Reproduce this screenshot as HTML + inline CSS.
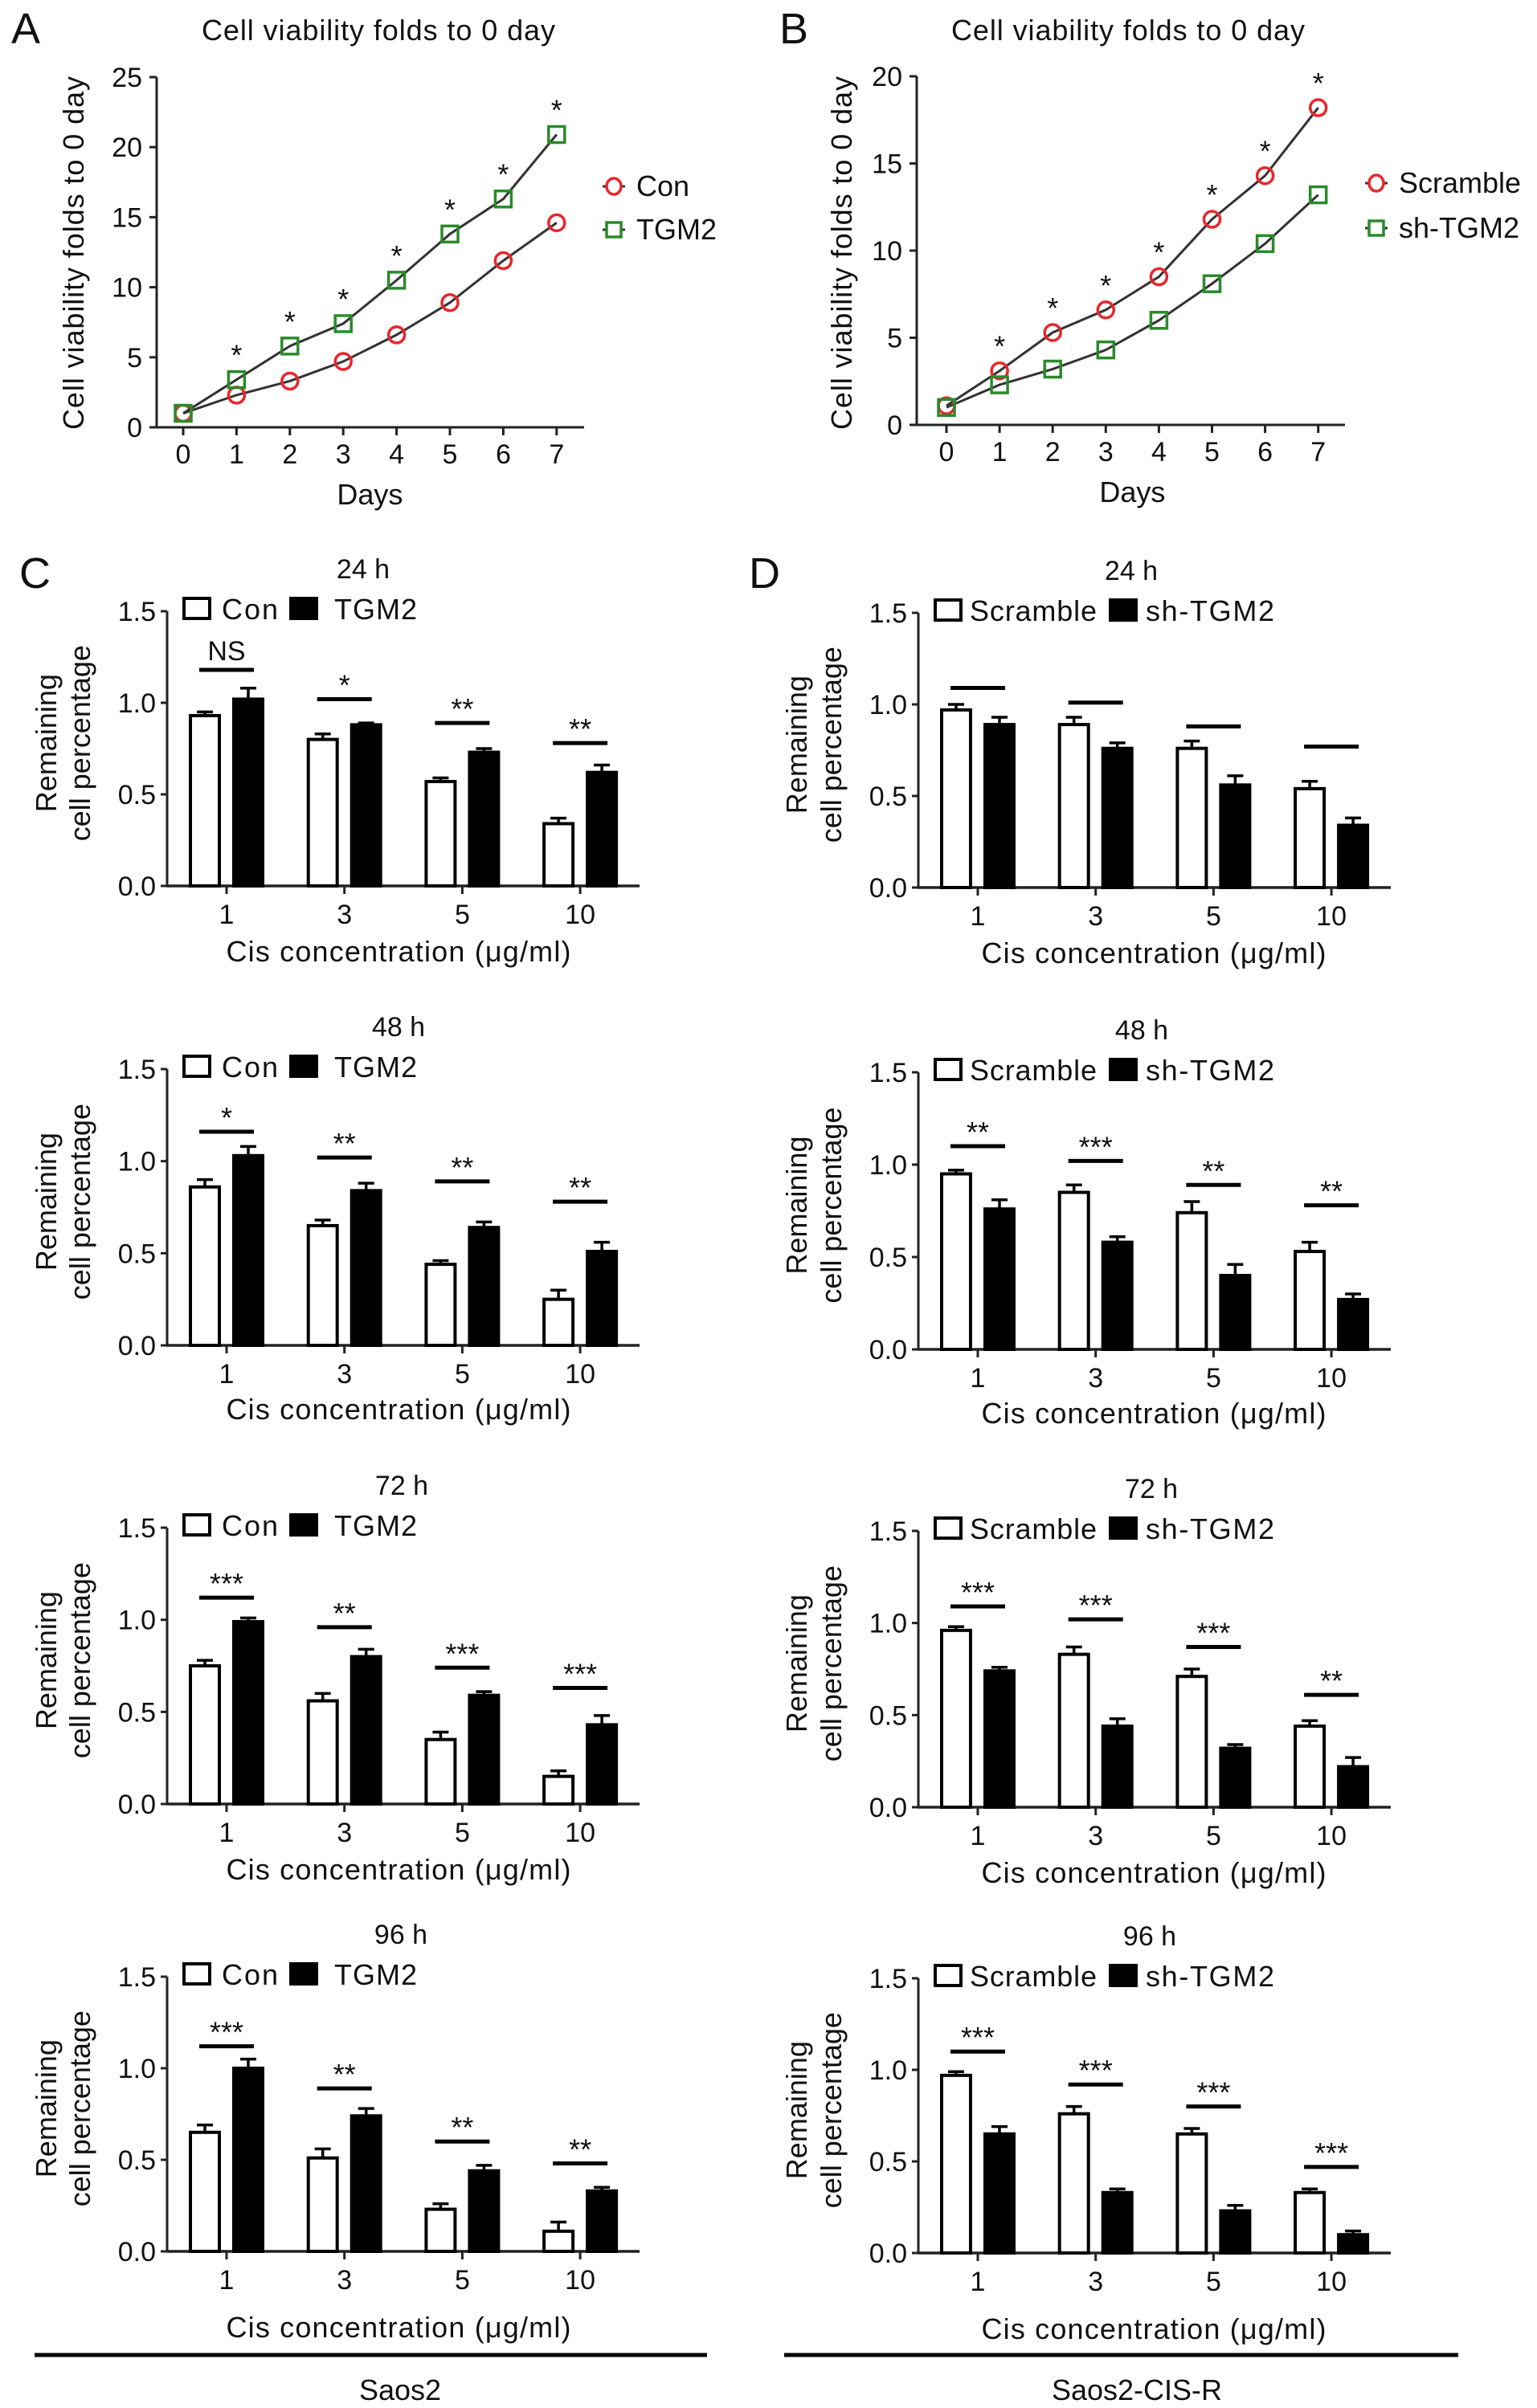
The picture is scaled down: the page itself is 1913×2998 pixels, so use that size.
<!DOCTYPE html>
<html><head><meta charset="utf-8"><title>Cell viability and cisplatin response</title>
<style>html,body{margin:0;padding:0;background:#fff}svg{display:block}text{font-family:"Liberation Sans",Arial,sans-serif;fill:#111}</style>
</head><body>
<svg id="fig" xmlns="http://www.w3.org/2000/svg" width="1913" height="2998" viewBox="0 0 1913 2998"></svg>
<script>
// ---- Line chart data ----
const days = [0,1,2,3,4,5,6,7];
const aTicks = [0,5,10,15,20,25];
const aCon = [1.0,2.3,3.3,4.7,6.6,8.9,11.9,14.6];
const aTGM2 = [1.0,3.4,5.8,7.4,10.5,13.8,16.3,20.9];
const bTicks = [0,5,10,15,20];
const bScramble = [1.1,3.1,5.3,6.6,8.5,11.8,14.3,18.2];
const bShTGM2 = [1.0,2.3,3.2,4.3,6.0,8.1,10.4,13.2];

// ---- Bar chart data ----
const concentrations = ["1","3","5","10"];
const barTicks = [0.0,0.5,1.0,1.5];
const c24White=[0.93,0.80,0.57,0.34], c24Black=[1.02,0.88,0.73,0.62];
const c24WErr=[0.02,0.03,0.02,0.03], c24BErr=[0.06,0.01,0.02,0.04];
const c24Sig=["NS","*","**","**"], c24Line=[1.18,1.02,0.89,0.78];
const d24White=[0.97,0.89,0.76,0.54], d24Black=[0.89,0.76,0.56,0.34];
const d24WErr=[0.03,0.04,0.04,0.04], d24BErr=[0.04,0.03,0.05,0.04];
const d24Sig=["","","",""], d24Line=[1.09,1.01,0.88,0.77];
const c48White=[0.86,0.65,0.44,0.25], c48Black=[1.03,0.84,0.64,0.51];
const c48WErr=[0.04,0.03,0.02,0.05], c48BErr=[0.05,0.04,0.03,0.05];
const c48Sig=["*","**","**","**"], c48Line=[1.16,1.02,0.89,0.78];
const d48White=[0.95,0.85,0.74,0.53], d48Black=[0.76,0.58,0.40,0.27];
const d48WErr=[0.02,0.04,0.06,0.05], d48BErr=[0.05,0.03,0.06,0.03];
const d48Sig=["**","***","**","**"], d48Line=[1.10,1.02,0.89,0.78];
const c72White=[0.75,0.56,0.35,0.15], c72Black=[0.99,0.80,0.59,0.43];
const c72WErr=[0.03,0.04,0.04,0.03], c72BErr=[0.02,0.04,0.02,0.05];
const c72Sig=["***","**","***","***"], c72Line=[1.12,0.96,0.74,0.63];
const d72White=[0.96,0.83,0.71,0.44], d72Black=[0.74,0.44,0.32,0.22];
const d72WErr=[0.02,0.04,0.04,0.03], d72BErr=[0.02,0.04,0.02,0.05];
const d72Sig=["***","***","***","**"], d72Line=[1.09,1.02,0.87,0.61];
const c96White=[0.65,0.51,0.23,0.11], c96Black=[1.00,0.74,0.44,0.33];
const c96WErr=[0.04,0.05,0.03,0.05], c96BErr=[0.05,0.04,0.03,0.02];
const c96Sig=["***","**","**","**"], c96Line=[1.12,0.89,0.60,0.48];
const d96White=[0.97,0.76,0.65,0.33], d96Black=[0.65,0.33,0.23,0.10];
const d96WErr=[0.02,0.04,0.03,0.02], d96BErr=[0.04,0.02,0.03,0.02];
const d96Sig=["***","***","***","***"], d96Line=[1.10,0.92,0.80,0.47];

const NS='http://www.w3.org/2000/svg';
const svg=document.getElementById('fig');
function mk(tag,attrs,parent){const e=document.createElementNS(NS,tag);for(const k in attrs)e.setAttribute(k,attrs[k]);(parent||svg).appendChild(e);return e;}
function txt(s,x,y,size,anchor,parent,extra){const e=mk('text',Object.assign({x:x,y:y,'font-size':size,'text-anchor':anchor||'middle'},extra||{}),parent);e.textContent=s;return e;}

// panel letters
[["A",14,54],["B",970,54],["C",24,732],["D",932,732]].forEach(p=>{
  const t=txt(p[0],p[1],p[2],54,'start');
  
  
});

function lineChart(o){
  const g=mk('g',{});
  
  
  const xs=d=>o.x0+d*o.step, ys=v=>o.y0-v*o.unit;
  const t=txt('Cell viability folds to 0 day',o.titleX,50,36,'middle',g,{textLength:440});
  
  
  const yt=txt('Cell viability folds to 0 day',0,0,36,'middle',g,{transform:`translate(${o.ytX},315) rotate(-90)`,textLength:440});
  
  
  mk('line',{x1:o.ax,y1:o.y0,x2:o.ax,y2:ys(o.ticks[o.ticks.length-1]),stroke:'#222','stroke-width':3},g);
  mk('line',{x1:o.ax-1,y1:o.y0,x2:o.axEnd,y2:o.y0,stroke:'#222','stroke-width':3},g);
  o.ticks.forEach(v=>{
    mk('line',{x1:o.ax-9,y1:ys(v),x2:o.ax,y2:ys(v),stroke:'#222','stroke-width':3},g);
    const l=txt(String(v),o.ax-18,ys(v)+12,34,'end',g);
    
    
  });
  days.forEach(d=>{
    mk('line',{x1:xs(d),y1:o.y0,x2:xs(d),y2:o.y0+10,stroke:'#222','stroke-width':3},g);
    const l=txt(String(d),xs(d),o.y0+45,34,'middle',g);
    
    
  });
  const xl=txt('Days',o.x0+3.5*o.step,o.y0+96,36,'middle',g);
  
  
  o.series.forEach((s,si)=>{
    const pts=days.map(d=>xs(d)+','+ys(s.vals[d])).join(' ');
    const pl=mk('polyline',{points:pts,fill:'none',stroke:'#333','stroke-width':3},g);
    
    
    days.forEach(d=>{
      let m;
      if(s.shape==='circle') m=mk('ellipse',{cx:xs(d),cy:ys(s.vals[d]),rx:10,ry:10,fill:'none',stroke:s.color,'stroke-width':3.5},g);
      else m=mk('rect',{x:xs(d)-10,y:ys(s.vals[d])-10,width:20,height:20,fill:'none',stroke:s.color,'stroke-width':3.5},g);
      
      
    });
    // legend
    const ly=o.legY[si];
    const le=mk('g',{},g);
    
    
    mk('line',{x1:o.legX-14,y1:ly,x2:o.legX+14,y2:ly,stroke:'#333','stroke-width':3},le);
    if(s.shape==='circle') mk('ellipse',{cx:o.legX,cy:ly,rx:9,ry:10,fill:'#fff',stroke:s.color,'stroke-width':3.5},le);
    else mk('rect',{x:o.legX-9,y:ly-9,width:18,height:18,fill:'#fff',stroke:s.color,'stroke-width':3.5},le);
    txt(s.label,o.legX+28,ly+12,36,'start',le);
  });
  days.forEach(d=>{ if(d===0)return;
    const top=o.series[o.starSeries].vals[d];
    const st=txt('*',xs(d),ys(top)-38+20,36,'middle',g);
    
    
  });
}
lineChart({name:'chart-a-cell-viability',x0:228,step:66.4,ax:195,axEnd:727,y0:532,unit:17.44,ticks:aTicks,titleX:471,ytX:104,
  legX:764,legY:[232,286],starSeries:1,
  series:[{key:'con',label:'Con',vals:aCon,shape:'circle',color:'#e8262b'},{key:'tgm2',label:'TGM2',vals:aTGM2,shape:'square',color:'#2a8a2a'}]});
lineChart({name:'chart-b-cell-viability',x0:1178,step:66.1,ax:1141,axEnd:1674,y0:529,unit:21.7,ticks:bTicks,titleX:1404,ytX:1060,
  legX:1713,legY:[228,284],starSeries:0,
  series:[{key:'scramble',label:'Scramble',vals:bScramble,shape:'circle',color:'#e8262b'},{key:'sh-tgm2',label:'sh-TGM2',vals:bShTGM2,shape:'square',color:'#2a8a2a'}]});

function barChart(o){
  const g=mk('g',{});
  
  
  const unit=(o.y0-o.y15)/1.5;
  const ys=v=>o.y0-v*unit;
  const xc=i=>o.t0+i*146.7;
  const t=txt(o.title,o.titleX,o.y15-41,34,'middle',g);
  
  
  const cy=o.y0-0.52*(o.y0-o.y15);
  const y1=txt('Remaining',0,0,36,'middle',g,{transform:`translate(${o.yl1},${cy}) rotate(-90)`});
  
  
  txt('cell percentage',0,0,36,'middle',g,{transform:`translate(${o.yl2},${cy}) rotate(-90)`});
  mk('line',{x1:o.ax,y1:o.y0,x2:o.ax,y2:o.y15,stroke:'#222','stroke-width':3},g);
  mk('line',{x1:o.ax-1,y1:o.y0,x2:o.axEnd,y2:o.y0,stroke:'#222','stroke-width':3.5},g);
  barTicks.forEach(v=>{
    mk('line',{x1:o.ax-8,y1:ys(v),x2:o.ax,y2:ys(v),stroke:'#222','stroke-width':3},g);
    const l=txt(v.toFixed(1),o.ax-14,ys(v)+12,34,'end',g);
    
    
  });
  concentrations.forEach((c,i)=>{
    mk('line',{x1:xc(i),y1:o.y0,x2:xc(i),y2:o.y0+10,stroke:'#222','stroke-width':3},g);
    const l=txt(c,xc(i),o.y0+47,34,'middle',g);
    
    
    [[o.w,o.we,-27,'#fff','white'],[o.b,o.be,27,'#000','black']].forEach(s=>{
      const v=s[0][i], e=s[1][i], cx=xc(i)+s[2];
      mk('line',{x1:cx,y1:ys(v),x2:cx,y2:ys(v+e),stroke:'#000','stroke-width':3.5},g);
      mk('line',{x1:cx-10,y1:ys(v+e),x2:cx+10,y2:ys(v+e),stroke:'#000','stroke-width':3.5},g);
      const r=mk('rect',{x:cx-18,y:ys(v),width:36,height:v*unit,fill:s[3],stroke:'#000','stroke-width':4},g);
      
      
    });
    const ly=ys(o.line[i]);
    const sl=mk('line',{x1:xc(i)-34,y1:ly,x2:xc(i)+34,y2:ly,stroke:'#000','stroke-width':5},g);
    
    
    if(o.sig[i]){
      const isNS=o.sig[i]==='NS';
      const st=txt(o.sig[i],xc(i),isNS?ly-12:ly-25+20,isNS?34:36,'middle',g);
      
      
    }
  });
  const at=txt('Cis concentration (\u03bcg/ml)',o.atX,o.y0+o.atOff,36,'middle',g,{textLength:429});
  
  
  // legend
  const lg=mk('g',{},g);
  
  
  const top=o.y15-16;
  mk('rect',{x:o.leg[0],y:top,width:32,height:25,fill:'#fff',stroke:'#000','stroke-width':4},lg);
  txt(o.labels[0],o.leg[1],o.y15+10,36,'start',lg,{textLength:o.leg[4]});
  mk('rect',{x:o.leg[2],y:top,width:32,height:25,fill:'#000',stroke:'#000','stroke-width':4},lg);
  txt(o.labels[1],o.leg[3],o.y15+10,36,'start',lg,{textLength:o.leg[5]});
}
const rows=[
 {y0c:1103,y15c:761,y0d:1105,y15d:763,tc:'24 h',txc:452,txd:1408,off:94},
 {y0c:1675,y15c:1331,y0d:1680,y15d:1335,tc:'48 h',txc:496,txd:1421,off:92},
 {y0c:2246,y15c:1902,y0d:2250,y15d:1906,tc:'72 h',txc:500,txd:1433,off:94},
 {y0c:2803,y15c:2461,y0d:2805,y15d:2463,tc:'96 h',txc:499,txd:1431,off:107}
];
const cData=[[c24White,c24Black,c24WErr,c24BErr,c24Sig,c24Line],[c48White,c48Black,c48WErr,c48BErr,c48Sig,c48Line],[c72White,c72Black,c72WErr,c72BErr,c72Sig,c72Line],[c96White,c96Black,c96WErr,c96BErr,c96Sig,c96Line]];
const dData=[[d24White,d24Black,d24WErr,d24BErr,d24Sig,d24Line],[d48White,d48Black,d48WErr,d48BErr,d48Sig,d48Line],[d72White,d72Black,d72WErr,d72BErr,d72Sig,d72Line],[d96White,d96Black,d96WErr,d96BErr,d96Sig,d96Line]];
rows.forEach((r,k)=>{
  const c=cData[k], d=dData[k];
  barChart({name:'chart-c-'+r.tc.replace(' ',''),title:r.tc,titleX:r.txc,ax:208,axEnd:796,t0:282,y0:r.y0c,y15:r.y15c,yl1:70,yl2:112,
    w:c[0],b:c[1],we:c[2],be:c[3],sig:c[4],line:c[5],atX:496,atOff:r.off,labels:['Con','TGM2'],leg:[229,276,362,416,70,103]});
  barChart({name:'chart-d-'+r.tc.replace(' ',''),title:r.tc,titleX:r.txd,ax:1143,axEnd:1731,t0:1217,y0:r.y0d,y15:r.y15d,yl1:1004,yl2:1047,
    w:d[0],b:d[1],we:d[2],be:d[3],sig:d[4],line:d[5],atX:1436,atOff:r.off,labels:['Scramble','sh-TGM2'],leg:[1164,1207,1382,1426,158,160]});
});
// bottom group labels
[[43,880,498,'Saos2','saos2'],[976,1815,1415,'Saos2-CIS-R','saos2-cis-r']].forEach(b=>{
  const l=mk('line',{x1:b[0],y1:2932,x2:b[1],y2:2932,stroke:'#000','stroke-width':5});
  
  
  const t=txt(b[3],b[2],2988,36,'middle');
  
  
});
</script>
</body></html>
